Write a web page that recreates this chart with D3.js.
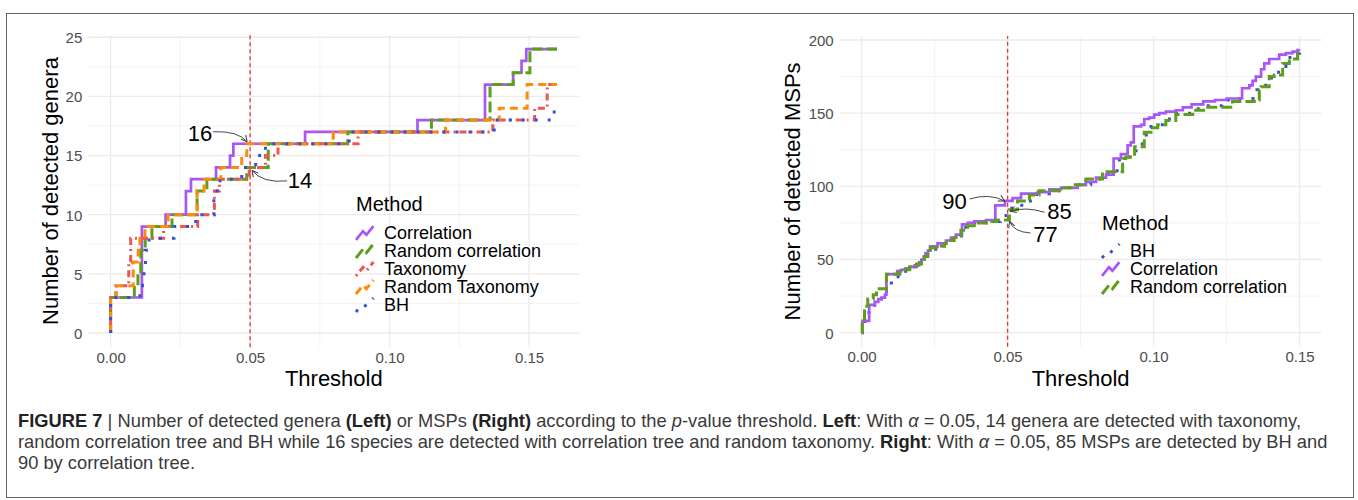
<!DOCTYPE html>
<html><head><meta charset="utf-8">
<script src="https://cdn.jsdelivr.net/npm/d3@7"></script>
<style>
html,body{margin:0;padding:0;background:#fff;}
svg{display:block;font-family:"Liberation Sans",Arial,Helvetica,sans-serif;}
</style></head><body>
<svg id="chart" width="1358" height="500"></svg>
<script>
// ================= DATA =================
// Left panel: number of detected genera vs threshold (step points [threshold, count])
const leftXTicks = [0, 0.05, 0.10, 0.15];
const leftXMinor = [0.025, 0.075, 0.125];
const leftYTicks = [0, 5, 10, 15, 20, 25];
const leftYMinor = [2.5, 7.5, 12.5, 17.5, 22.5];
const leftMethods = ["Correlation", "Random correlation", "Taxonomy", "Random Taxonomy", "BH"];

const leftCorrelation = [[0,0],[0,3],[0.0112,9],[0.0197,10],[0.027,12],[0.0288,13],[0.0378,14],[0.0428,15],[0.044,16],[0.0697,17],[0.110,18],[0.1342,21],[0.1443,22],[0.1473,23],[0.149,24],[0.16,24]];
const leftRandomCorrelation = [[0,0],[0,3],[0.0085,4],[0.0098,5],[0.0108,7],[0.0124,8],[0.0148,9],[0.022,10],[0.031,12],[0.0345,13],[0.0488,14],[0.0565,16],[0.085,17],[0.115,18],[0.136,21],[0.1443,22],[0.1503,24],[0.16,24]];
const leftTaxonomy = [[0,0],[0,3],[0.002,4],[0.0065,6],[0.0072,8],[0.019,9],[0.0312,10],[0.0372,12],[0.039,13],[0.0497,14],[0.0555,15],[0.06,16],[0.0887,17],[0.137,18],[0.152,19],[0.1565,21],[0.16,21]];
const leftRandomTaxonomy = [[0,0],[0,3],[0.0018,4],[0.0081,6],[0.0099,7],[0.0105,8],[0.0123,9],[0.0206,10],[0.031,12],[0.0335,13],[0.0395,14],[0.047,15],[0.0488,16],[0.0798,17],[0.120,18],[0.1393,19],[0.1493,21],[0.16,21]];
const leftBH = [[0,0],[0,3],[0.0105,4],[0.0114,5],[0.0125,7],[0.0138,8],[0.0227,9],[0.0305,10],[0.037,12],[0.0392,13],[0.047,14],[0.052,15],[0.0555,16],[0.0855,17],[0.1375,18],[0.159,19],[0.16,19]];

// Right panel: number of detected MSPs vs threshold
const rightXTicks = [0, 0.05, 0.10, 0.15];
const rightXMinor = [0.025, 0.075, 0.125];
const rightYTicks = [0, 50, 100, 150, 200];
const rightYMinor = [25, 75, 125, 175];
const rightMethods = ["BH", "Correlation", "Random correlation"];

const rightBH = [[0,0],[0.0003,5],[0.0011,10],[0.0025,15],[0.0045,20],[0.0068,25],[0.0085,30],[0.0102,37],[0.0125,40],[0.014,42],[0.0165,45],[0.019,47],[0.0205,50],[0.022,54],[0.0235,57],[0.027,60],[0.0295,63],[0.032,66],[0.0348,72],[0.038,75],[0.0426,76],[0.0475,80],[0.0495,85],[0.0523,87],[0.0555,90],[0.06,95],[0.0643,97],[0.0683,99],[0.074,101],[0.0785,105],[0.0837,108],[0.0875,118],[0.09,120],[0.094,129],[0.0975,140],[0.0991,142],[0.1042,146],[0.1076,150],[0.1134,153],[0.118,155],[0.1236,159],[0.1288,160],[0.1354,166],[0.1384,172],[0.1396,174],[0.1428,180],[0.1453,188],[0.1476,191],[0.15,193]];
const rightCorrelation = [[0,0],[0.0003,8],[0.0026,19],[0.0045,21],[0.0057,23],[0.0068,24],[0.008,26],[0.0085,40],[0.0122,42],[0.0136,43],[0.0151,44],[0.0165,45],[0.0182,46],[0.0197,48],[0.0205,50],[0.0213,52],[0.0219,54],[0.0227,56],[0.0235,59],[0.026,61],[0.0289,63],[0.0306,65],[0.0323,67],[0.0344,74],[0.0363,75],[0.0386,76],[0.0426,77],[0.0458,87],[0.0491,90],[0.0517,92],[0.0546,95],[0.0603,96],[0.0643,98],[0.0683,99],[0.074,101],[0.0768,103],[0.0803,106],[0.0837,108],[0.0863,119],[0.0888,122],[0.0911,128],[0.0922,130],[0.0932,141],[0.0957,142],[0.0968,146],[0.0985,147],[0.1002,149],[0.1019,150],[0.1042,151],[0.1076,152],[0.110,154],[0.113,156],[0.117,158],[0.121,159],[0.125,160],[0.1303,167],[0.1328,169],[0.1339,172],[0.135,175],[0.1368,180],[0.1379,184],[0.1396,187],[0.143,190],[0.1453,191],[0.1476,192],[0.1493,193],[0.15,193]];
const rightRandomCorrelation = [[0,0],[0.0002,8],[0.001,18],[0.0021,23],[0.004,26],[0.0051,30],[0.0085,40],[0.0131,42],[0.0148,43],[0.0165,45],[0.0188,47],[0.0205,50],[0.0215,52],[0.0227,55],[0.0235,58],[0.0273,59],[0.0284,61],[0.029,63],[0.0317,65],[0.034,70],[0.0363,73],[0.0392,75],[0.0426,76],[0.046,77],[0.0506,84],[0.0534,90],[0.0575,94],[0.0608,97],[0.0677,99],[0.0723,101],[0.0768,105],[0.0825,110],[0.0894,119],[0.0905,120],[0.0935,127],[0.0968,137],[0.0991,140],[0.1014,142],[0.1042,145],[0.1076,149],[0.1134,152],[0.1179,154],[0.127,158],[0.1345,159],[0.1362,166],[0.1368,168],[0.1396,175],[0.1413,176],[0.1442,184],[0.1465,187],[0.1493,192],[0.15,193]];

// Annotations: value at alpha = 0.05
const alpha = 0.05;
const leftAnnotations = [16, 14];
const rightAnnotations = [90, 85, 77];

// Caption
const captionLines = [
  [["FIGURE 7","b"],[" | ",""],["Number of detected genera ",""],["(Left)","b"],[" or MSPs ",""],["(Right)","b"],[" according to the ",""],["p","i"],["-value threshold. ",""],["Left","b"],[": With ",""],["α","i"],[" = 0.05, 14 genera are detected with taxonomy,",""]],
  [["random correlation tree and BH while 16 species are detected with correlation tree and random taxonomy. ",""],["Right","b"],[": With ",""],["α","i"],[" = 0.05, 85 MSPs are detected by BH and",""]],
  [["90 by correlation tree.",""]]
];

// ================= STYLES =================
const styles = {
  "Correlation":        {color:"#A757F5", dash:null,        width:2.7},
  "Random correlation": {color:"#5F9E1C", dash:"11,4",      width:3.0},
  "Taxonomy":           {color:"#EE5555", dash:"2,4,7,4",   width:3.0},
  "Random Taxonomy":    {color:"#FB8C0C", dash:"8,5",       width:3.0},
  "BH":                 {color:"#3450D4", dash:"3,10",      width:3.0}
};

const svg = d3.select("#chart");
svg.append("rect").attr("width",1358).attr("height",500).attr("fill","#fff");
svg.append("rect").attr("x",6.5).attr("y",13.5).attr("width",1347).attr("height",484)
  .attr("fill","none").attr("stroke","#666").attr("stroke-width",1);

const defs = svg.append("defs");
defs.append("marker").attr("id","arr").attr("viewBox","-8 -5 10 10")
  .attr("refX",0).attr("refY",0).attr("markerWidth",10).attr("markerHeight",10)
  .attr("markerUnits","userSpaceOnUse").attr("orient","auto")
  .append("path").attr("d","M-6,-3.2L0,0L-6,3.2").attr("fill","none").attr("stroke","#333").attr("stroke-width",0.9);

function drawPanel(cfg){
  const {x, y, xTicks, xMinor, yTicks, yMinor, series, yTitle, yTitleX, annotations, legend} = cfg;
  const g = svg.append("g");
  const [px0, px1] = x.range();
  const [py0, py1] = y.range();
  // grid
  g.selectAll(".gxm").data(xMinor).join("line").attr("x1",d=>x(d)).attr("x2",d=>x(d)).attr("y1",py0).attr("y2",py1).attr("stroke","#EEEEEE").attr("stroke-width",0.7);
  g.selectAll(".gym").data(yMinor).join("line").attr("y1",d=>y(d)).attr("y2",d=>y(d)).attr("x1",px0).attr("x2",px1).attr("stroke","#EEEEEE").attr("stroke-width",0.7);
  g.selectAll(".gx").data(xTicks).join("line").attr("x1",d=>x(d)).attr("x2",d=>x(d)).attr("y1",py0).attr("y2",py1).attr("stroke","#EBEBEB").attr("stroke-width",1.3);
  g.selectAll(".gy").data(yTicks).join("line").attr("y1",d=>y(d)).attr("y2",d=>y(d)).attr("x1",px0).attr("x2",px1).attr("stroke","#EBEBEB").attr("stroke-width",1.3);

  // axes
  const ax = g.append("g").attr("transform",`translate(0,${py0})`)
    .call(d3.axisBottom(x).tickValues(xTicks).tickFormat(d3.format(".2f")).tickSize(0).tickPadding(5));
  const ay = g.append("g").attr("transform",`translate(${px0},0)`)
    .call(d3.axisLeft(y).tickValues(yTicks).tickFormat(d3.format("d")).tickSize(0).tickPadding(6));
  [ax, ay].forEach(a=>{
    a.select(".domain").remove();
    a.selectAll("text").attr("font-size",15).attr("fill","#4D4D4D").attr("font-family",'"Liberation Sans",Arial,sans-serif');
  });
  ay.selectAll("text").attr("dy","0.36em");

  // titles
  g.append("text").attr("x",(px0+px1)/2).attr("y",386).attr("text-anchor","middle")
    .attr("font-size",22).attr("fill","#000").text("Threshold");
  g.append("text").attr("transform",`translate(${yTitleX},${(py0+py1)/2}) rotate(-90)`)
    .attr("text-anchor","middle").attr("font-size",22).attr("fill","#000").text(yTitle);

  // vline
  g.append("line").attr("x1",x(alpha)).attr("x2",x(alpha)).attr("y1",py0).attr("y2",py1)
    .attr("stroke","#EE3333").attr("stroke-width",1.3).attr("stroke-dasharray","4,3");

  // series
  const line = d3.line().x(d=>x(d[0])).y(d=>y(d[1])).curve(d3.curveStepAfter);
  series.forEach(s=>{
    const st = styles[s.name];
    g.append("path").datum(s.data).attr("d",line).attr("fill","none")
      .attr("stroke",st.color).attr("stroke-width",st.width)
      .attr("stroke-dasharray",st.dash).attr("stroke-linecap","butt").attr("stroke-linejoin","miter");
  });

  // annotations
  annotations.forEach(a=>{
    const X = x(alpha), Y = y(a.value);
    g.append("text").attr("x",X+a.tx).attr("y",Y+a.ty).attr("text-anchor","middle")
      .attr("dy","0.36em").attr("font-size",22).attr("fill","#000").text(a.value);
    g.append("path").attr("d",`M${X+a.sx},${Y+a.sy}Q${X+a.cx},${Y+a.cy} ${X+a.ex},${Y+a.ey}`)
      .attr("fill","none").attr("stroke","#333").attr("stroke-width",0.9).attr("marker-end","url(#arr)");
  });

  // legend
  const lg = g.append("g");
  lg.append("text").attr("x",legend.x).attr("y",legend.titleY+7).attr("font-size",20).attr("fill","#000").text("Method");
  const kw = 17.4, kh = 17.4;
  const zig = [[0,0.1],[0.4,0.6],[0.6,0.4],[1,0.9]];
  legend.items.forEach((name,i)=>{
    const cy = legend.firstY + i*18;
    const st = styles[name];
    const pts = zig.map(p=>[legend.x + p[0]*kw, cy + kh/2 - p[1]*kh]);
    lg.append("path").attr("d",d3.line()(pts)).attr("fill","none").attr("stroke",st.color)
      .attr("stroke-width",st.width).attr("stroke-dasharray",st.dash).attr("stroke-linecap","butt");
    lg.append("text").attr("x",legend.x+28).attr("y",cy).attr("dy","0.36em").attr("font-size",18).attr("fill","#000").text(name);
  });
}

// Left panel
const xL = d3.scaleLinear().domain([-0.008, 0.168]).range([88.3, 579.3]);
const yL = d3.scaleLinear().domain([-1.2, 25.2]).range([347.2, 34.9]);
drawPanel({
  x:xL, y:yL, xTicks:leftXTicks, xMinor:leftXMinor, yTicks:leftYTicks, yMinor:leftYMinor,
  series:[
    {name:"Correlation", data:leftCorrelation},
    {name:"Random correlation", data:leftRandomCorrelation},
    {name:"Taxonomy", data:leftTaxonomy},
    {name:"Random Taxonomy", data:leftRandomTaxonomy},
    {name:"BH", data:leftBH}
  ],
  yTitle:"Number of detected genera", yTitleX:58,
  annotations:[
    {value:leftAnnotations[0], tx:-50, ty:-11, sx:-37, sy:-12, cx:-12, cy:-13, ex:-3, ey:-2},
    {value:leftAnnotations[1], tx:50, ty:13, sx:37, sy:13.5, cx:12, cy:16, ex:2, ey:3}
  ],
  legend:{x:356, titleY:204, firstY:233, items:leftMethods}
});

// Right panel
const xR = d3.scaleLinear().domain([-0.0075, 0.1575]).range([839.7, 1321.5]);
const yR = d3.scaleLinear().domain([-9.65, 202.65]).range([346.8, 36.1]);
drawPanel({
  x:xR, y:yR, xTicks:rightXTicks, xMinor:rightXMinor, yTicks:rightYTicks, yMinor:rightYMinor,
  series:[
    {name:"BH", data:rightBH},
    {name:"Correlation", data:rightCorrelation},
    {name:"Random correlation", data:rightRandomCorrelation}
  ],
  yTitle:"Number of detected MSPs", yTitleX:800,
  annotations:[
    {value:rightAnnotations[0], tx:-53, ty:0, sx:-38, sy:-2, cx:-18, cy:-8, ex:-3, ey:0},
    {value:rightAnnotations[1], tx:52, ty:3, sx:37, sy:4, cx:18, cy:-2, ex:2.5, ey:3},
    {value:rightAnnotations[2], tx:38, ty:14, sx:23, sy:13, cx:6, cy:12, ex:2, ey:1.5}
  ],
  legend:{x:1102, titleY:223, firstY:251, items:rightMethods}
});

// Caption
const capG = svg.append("g").attr("fill","#3a3a3a");
const capBase = [427, 448, 469];
const capNodes = captionLines.map((segs,i)=>{
  const t = capG.append("text").attr("x",18).attr("y",capBase[i]).attr("font-size",16);
  segs.forEach(s=>{
    const ts = t.append("tspan").text(s[0]);
    if(s[1]==="b"){ ts.attr("font-weight","bold").attr("fill","#222"); }
    if(s[1]==="i"){ ts.attr("font-style","italic"); }
  });
  return t;
});
const natural = capNodes[1].node().getComputedTextLength();
const fs = 16 * (1310 / natural);
capNodes.forEach(t=>t.attr("font-size",fs));
capNodes[0].attr("textLength",1283).attr("lengthAdjust","spacing");
</script>
</body></html>
